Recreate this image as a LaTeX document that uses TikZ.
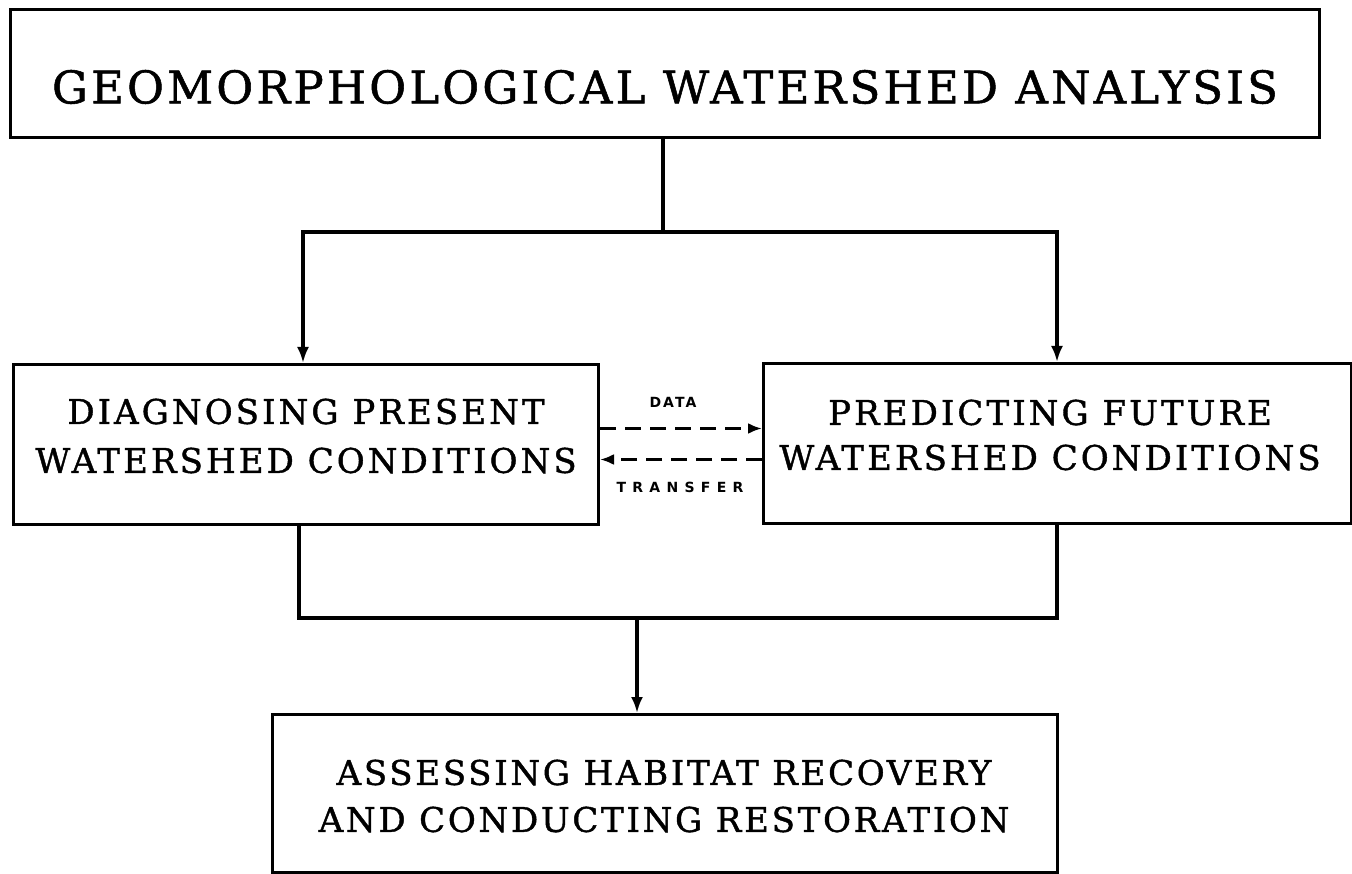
\documentclass[tikz,border=0pt]{standalone}
\usepackage{fontspec}
\setmainfont{DejaVu Serif}
\newfontfamily\boxfont[LetterSpace=7,FakeBold=1.2]{DejaVu Serif}
\newfontfamily\midfont[LetterSpace=9,FakeBold=1.2]{DejaVu Serif}
\newfontfamily\lowfont[LetterSpace=8,FakeBold=1.2]{DejaVu Serif}
\newfontfamily\dlabfont[LetterSpace=15]{DejaVu Sans}
\newfontfamily\tlabfont[LetterSpace=45]{DejaVu Sans}
\usetikzlibrary{arrows.meta}
\begin{document}
\begin{tikzpicture}[x=1pt,y=-1pt,
  box/.style={draw=black,line width=3pt,inner sep=0pt,anchor=north west},
  boxtext/.style={align=center,inner sep=0pt},
  connline/.style={draw=black,line width=3.1pt},
  connarrow/.style={draw=black,line width=3.1pt,-{Latex[length=16pt,width=12pt]}},
  dasharrow/.style={draw=black,line width=3pt,dash pattern=on 16pt off 9pt,-{Latex[length=14pt,width=11pt]}}]
\useasboundingbox (0,0) rectangle (1352,874);
% boxes
\node[box,minimum width=1309pt,minimum height=128pt] (topbox) at (9,8) {};
\node[box,minimum width=585pt,minimum height=160pt] (diag) at (12,363) {};
\node[box,minimum width=588pt,minimum height=160pt] (pred) at (762,362) {};
\node[box,minimum width=785pt,minimum height=158pt] (assess) at (271,713) {};
% texts
\node[boxtext,font=\boxfont\fontsize{45}{54}\selectfont] (ttop) at (665,87) {GEOMORPHOLOGICAL WATERSHED ANALYSIS};
\node[boxtext,font=\midfont\fontsize{34}{49}\selectfont] (tdiag) at (306,436) {DIAGNOSING PRESENT\\WATERSHED CONDITIONS};
\node[boxtext,font=\midfont\fontsize{34}{45}\selectfont] (tpred) at (1050,435) {PREDICTING FUTURE\\WATERSHED CONDITIONS};
\node[boxtext,font=\lowfont\fontsize{34}{47}\selectfont] (tassess) at (664,796) {ASSESSING HABITAT RECOVERY\\AND CONDUCTING RESTORATION};
\node[inner sep=0pt,font=\dlabfont\bfseries\fontsize{14}{16}\selectfont] (ldata) at (673,402) {DATA};
\node[inner sep=0pt,font=\tlabfont\bfseries\fontsize{14}{16}\selectfont] (ltransfer) at (680,487) {TRANSFER};
% junction coordinates
\coordinate (j1) at (663,232);
\coordinate (jl) at (303,232);
\coordinate (jr) at (1057,232);
\coordinate (kl) at (299,618);
\coordinate (kr) at (1057,618);
\coordinate (k0) at (637,618);
% connectors
\draw[connline] (topbox.south -| j1) -- (j1);
\draw[connarrow] (j1) -- (jl) -- (jl |- diag.north);
\draw[connarrow] (j1) -- (jr) -- (jr |- pred.north);
\draw[connline] (diag.south -| kl) -- (kl) -- (kr) -- (pred.south -| kr);
\draw[connarrow] (k0) -- (k0 |- assess.north);
\draw[dasharrow] ([yshift=16pt]diag.east) -- ([yshift=16pt]diag.east -| pred.west);
\draw[dasharrow] ([yshift=-15pt]diag.east -| pred.west) -- ([yshift=-15pt]diag.east);
\end{tikzpicture}
\end{document}
